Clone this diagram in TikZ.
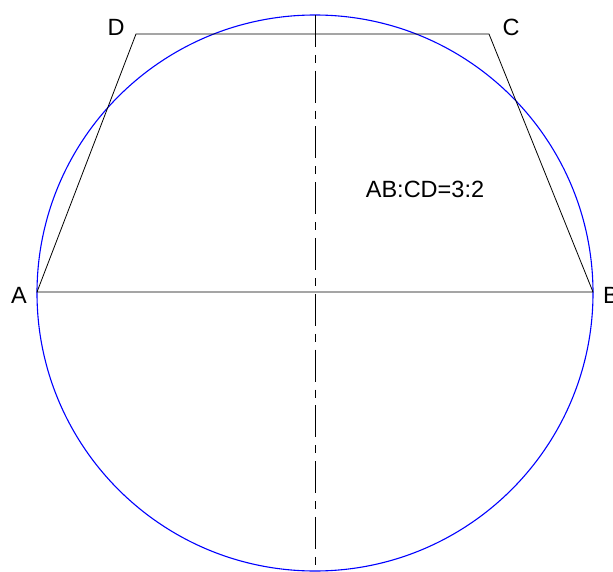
\documentclass[tikz,border=0pt]{standalone}
\usepackage{fontspec}
\setmainfont{Liberation Sans}
\tikzset{
  outline/.style={draw=black,line width=0.8pt},
  circ/.style={draw=blue,line width=1.1pt},
  centerline/.style={draw=black,line width=0.9pt,dash pattern=on 32pt off 8pt on 8pt off 7.75pt},
  ptlabel/.style={font=\fontsize{23.5}{23.5}\selectfont,inner sep=0pt}
}
\begin{document}
\begin{tikzpicture}[x=1pt,y=-1pt]
  \useasboundingbox (0,0) rectangle (613,572);
  \coordinate (O) at (315,293);
  \coordinate (A) at (37,292);
  \coordinate (B) at (593,292);
  \coordinate (C) at (489,34);
  \coordinate (D) at (136,34);
  \coordinate (top) at (315,15);
  \coordinate (bottom) at (315,572);

  \draw[circ] (O) circle[radius=278pt];
  \draw[outline] (A) -- (B) -- (C) -- (D) -- cycle;
  \draw[centerline] (top) -- (bottom);

  \node[ptlabel] (labA) at (19,295) {A};
  \node[ptlabel] (labB) at (611,295) {B};
  \node[ptlabel] (labC) at (511,27) {C};
  \node[ptlabel] (labD) at (116,27) {D};
  \node[ptlabel] (ratio) at (425,189) {AB:CD=3:2};
\end{tikzpicture}
\end{document}
